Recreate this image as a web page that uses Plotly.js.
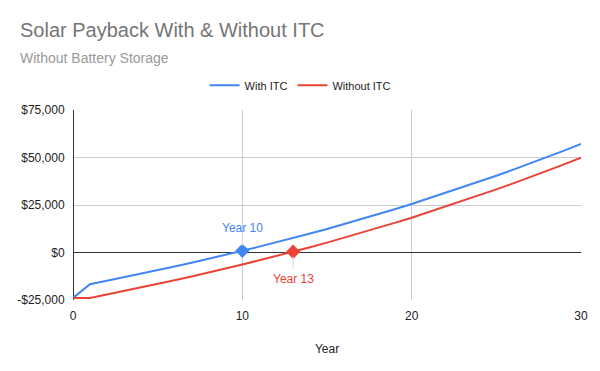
<!DOCTYPE html>
<html>
<head>
<meta charset="utf-8">
<script src="https://cdn.plot.ly/plotly-3.0.1.min.js"></script>
<style>html,body{margin:0;padding:0;background:#fff;}#chart{width:600px;height:371px;}</style>
</head>
<body>
<div id="chart"></div>
<script>
const years = [0,1,2,3,4,5,6,7,8,9,10,11,12,13,14,15,16,17,18,19,20,21,22,23,24,25,26,27,28,29,30];
const withItc = [-23900,-16700,-14900,-13100,-11300,-9400,-7400,-5400,-3400,-1300,900,3100,5300,7600,10000,12400,14900,17500,20100,22800,25500,28400,31300,34200,37300,40400,43600,46800,50200,53600,57100];
const withoutItc = [-23900,-23900,-22100,-20300,-18500,-16600,-14600,-12600,-10600,-8500,-6300,-4100,-1900,400,2800,5200,7700,10300,12900,15600,18300,21200,24100,27000,30100,33200,36400,39600,43000,46400,49900];
const seriesNames = ["With ITC","Without ITC"];
const paybackYears = [10, 13];
const paybackLabels = ["Year 10","Year 13"];
const yTickVals = [-25000,0,25000,50000,75000];
const yTickLabels = ["-$25,000","$0","$25,000","$50,000","$75,000"];
const xTickVals = [0,10,20,30];

const BLUE = "#4285F4", RED = "#EA4335";
const FONT = "Liberation Sans, Arial, sans-serif";

const bIdx = years.indexOf(paybackYears[0]);
const rIdx = years.indexOf(paybackYears[1]);

const traces = [
  {x: years, y: withItc, name: seriesNames[0], mode: "lines", line: {color: BLUE, width: 2}},
  {x: years, y: withoutItc, name: seriesNames[1], mode: "lines", line: {color: RED, width: 2}},
  {x: [years[bIdx]], y: [withItc[bIdx]], mode: "markers", showlegend: false,
   marker: {symbol: "diamond", size: 11, color: BLUE}},
  {x: [years[rIdx]], y: [withoutItc[rIdx]], mode: "markers", showlegend: false,
   marker: {symbol: "diamond", size: 11, color: RED}}
];

const layout = {
  width: 600, height: 371,
  margin: {l: 73, r: 19, t: 110, b: 71},
  paper_bgcolor: "#fff", plot_bgcolor: "#fff",
  font: {family: FONT, size: 12, color: "#222"},
  title: {text: "Solar Payback With & Without ITC", x: 20/600, xanchor: "left",
          xref: "container", yref: "container", y: 1 - 30/371, yanchor: "middle",
          font: {family: FONT, size: 20, color: "#757575"}},
  showlegend: true,
  legend: {orientation: "h", x: 0.447, xanchor: "center", y: 1.13, yanchor: "middle",
           font: {family: FONT, size: 11, color: "#222"}, itemwidth: 30, tracegroupgap: 0},
  xaxis: {range: [0, 30], tickvals: xTickVals, ticktext: xTickVals.map(String),
          showgrid: true, gridcolor: "#ccc", gridwidth: 1,
          zeroline: true, zerolinecolor: "#333", zerolinewidth: 1,
          showline: false, ticks: "outside", ticklen: 5, tickcolor: "rgba(0,0,0,0)",
          tickfont: {size: 12, color: "#222"},
          title: {text: "Year", standoff: 22, font: {size: 12, color: "#222"}}},
  yaxis: {range: [-25000, 75000], tickvals: yTickVals, ticktext: yTickLabels,
          showgrid: true, gridcolor: "#ccc", gridwidth: 1,
          zeroline: true, zerolinecolor: "#333", zerolinewidth: 1,
          showline: false, ticks: "outside", ticklen: 5, tickcolor: "rgba(0,0,0,0)",
          tickfont: {size: 12, color: "#222"}},
  annotations: [
    {xref: "paper", yref: "paper", x: (18-73)/508, y: (300-58)/190, xanchor: "left", yanchor: "middle",
     text: "Without Battery Storage", showarrow: false, font: {family: FONT, size: 14, color: "#999"}},
    {x: years[bIdx], y: withItc[bIdx], text: paybackLabels[0], showarrow: true, arrowhead: 0,
     arrowcolor: "#ddd", arrowwidth: 1, ax: 0, ay: -23, standoff: 5, font: {size: 12, color: BLUE}},
    {x: years[rIdx], y: withoutItc[rIdx], text: paybackLabels[1], showarrow: true, arrowhead: 0,
     arrowcolor: "#ddd", arrowwidth: 1, ax: 0, ay: 27, standoff: 5, font: {size: 12, color: RED}}
  ]
};

Plotly.newPlot("chart", traces, layout, {displayModeBar: false, staticPlot: true});
</script>
</body>
</html>
